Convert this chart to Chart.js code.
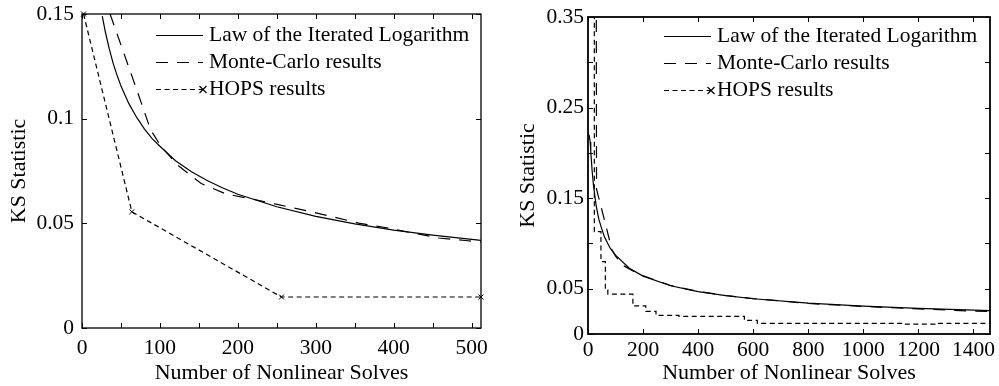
<!DOCTYPE html>
<html>
<head>
<meta charset="utf-8">
<title>KS Statistic vs Number of Nonlinear Solves</title>
<script src="https://cdn.jsdelivr.net/npm/chart.js@4.4.1/dist/chart.umd.min.js"></script>
<style>
    body { margin:0; background:#fff; }
    #wrap { position:relative; width:999px; height:386px; }
    canvas { position:absolute; top:0; }
</style>
</head>
<body>
<div id="wrap">
    <canvas id="leftChart" width="500" height="386" style="left:0"></canvas>
    <canvas id="rightChart" width="499" height="386" style="left:500px"></canvas>
</div>
<script>
// ==========================================================
// DATA
// ==========================================================

const seriesNames = ["Law of the Iterated Logarithm", "Monte-Carlo results", "HOPS results"];

// left panel (up to 512 solves)
const leftLilX  = [26, 30, 35, 40, 45, 50, 60, 70, 80, 90, 100, 120, 140, 160, 180, 200, 250, 300, 350, 400, 450, 512];
const leftLilY  = [0.149, 0.1414, 0.1333, 0.1264, 0.1207, 0.1156, 0.1073, 0.1007, 0.0951, 0.0905, 0.0868, 0.0799, 0.0748, 0.0706, 0.067, 0.0639, 0.0579, 0.0533, 0.0497, 0.0468, 0.0444, 0.0419];

const leftMcX   = [36, 71, 88, 101, 122, 153, 185, 220, 252, 286, 320, 355, 389, 424, 458, 492, 512];
const leftMcY   = [0.15, 0.113, 0.0947, 0.087, 0.078, 0.069, 0.064, 0.0615, 0.0589, 0.0562, 0.0533, 0.0501, 0.048, 0.0454, 0.043, 0.0418, 0.041];

const leftHopsX = [2, 64, 256, 512];
const leftHopsY = [0.15, 0.0555, 0.0148, 0.0148];

const leftYTicks = [0, 0.05, 0.1, 0.15];

// right panel (up to ~1460 solves)
const rightLilX  = [4, 8, 10, 15, 20, 30, 40, 50, 60, 80, 100, 150, 200, 300, 400, 500, 600, 800, 1000, 1200, 1460];
const rightLilY  = [0.22, 0.212, 0.202, 0.18, 0.164, 0.141, 0.126, 0.116, 0.107, 0.095, 0.087, 0.0726, 0.0639, 0.0533, 0.0468, 0.0423, 0.0389, 0.0341, 0.0308, 0.0283, 0.0259];

const rightMcX   = [30, 31, 47, 87, 100, 127, 188, 300, 400, 500, 600, 700, 800, 900, 1000, 1100, 1200, 1300, 1400, 1460];
const rightMcY   = [0.37, 0.16, 0.141, 0.093, 0.086, 0.0757, 0.0657, 0.0535, 0.047, 0.0425, 0.039, 0.0365, 0.0337, 0.032, 0.0305, 0.029, 0.0278, 0.0265, 0.0252, 0.0248];

// step series: each point starts a new level
const rightHopsX = [23, 23, 47, 63, 72, 163, 210, 247, 330, 568, 615, 1150, 1260, 1460];
const rightHopsY = [0.4, 0.113, 0.08, 0.0488, 0.044, 0.031, 0.025, 0.0205, 0.0195, 0.015, 0.0118, 0.0108, 0.0118, 0.0118];

const rightYTicks = [0, 0.05, 0.15, 0.25, 0.35];


// ==========================================================
// HELPERS
// ==========================================================

const serif = "'Liberation Serif', 'Times New Roman', serif";
Chart.defaults.font.family = serif;
Chart.defaults.color = "#000";

function pairs(xs, ys)
{
    return xs.map((x, i) => ({ x: x, y: ys[i] }));
}

// MATLAB-like box with inward tick marks on every side
const boxTicks = {
    id: "boxTicks",
    afterDatasetsDraw(chart)
    {
        const a = chart.chartArea;
        const ctx = chart.ctx;
        const len = 5;
        ctx.save();
        ctx.strokeStyle = "#000";
        ctx.lineWidth = 1;
        ctx.beginPath();
        chart.scales.x.ticks.forEach(t => {
            const px = Math.round(chart.scales.x.getPixelForValue(t.value)) + 0.5;
            ctx.moveTo(px, a.bottom); ctx.lineTo(px, a.bottom - len);
            ctx.moveTo(px, a.top);    ctx.lineTo(px, a.top + len);
        });
        chart.scales.y.ticks.forEach(t => {
            const py = Math.round(chart.scales.y.getPixelForValue(t.value)) + 0.5;
            ctx.moveTo(a.left, py);  ctx.lineTo(a.left + len, py);
            ctx.moveTo(a.right, py); ctx.lineTo(a.right - len, py);
        });
        ctx.stroke();
        ctx.lineWidth = chart.options.plugins.boxTicks.border;
        ctx.strokeRect(a.left, a.top, a.right - a.left, a.bottom - a.top);
        ctx.restore();
    }
};

// legend drawn inside the plot, upper right, no frame
const inlineLegend = {
    id: "inlineLegend",
    afterDraw(chart)
    {
        const o = chart.options.plugins.inlineLegend;
        const a = chart.chartArea;
        const ctx = chart.ctx;
        ctx.save();
        chart.data.datasets.forEach((ds, i) => {
            const y = Math.round(a.top + o.top + i * o.gap) + 0.5;
            const x0 = a.left + o.lineStart, x1 = a.left + o.lineEnd;
            ctx.strokeStyle = "#000";
            ctx.lineWidth = 1.2;
            ctx.setLineDash(ds.borderDash || []);
            ctx.beginPath();
            ctx.moveTo(x0, y); ctx.lineTo(x1, y);
            ctx.stroke();
            ctx.setLineDash([]);
            if (o.marker[i])
            {
                ctx.beginPath();
                ctx.moveTo(x1 - 3.5, y - 3.5); ctx.lineTo(x1 + 3.5, y + 3.5);
                ctx.moveTo(x1 - 3.5, y + 3.5); ctx.lineTo(x1 + 3.5, y - 3.5);
                ctx.stroke();
            }
            ctx.fillStyle = "#000";
            ctx.font = "21.5px " + serif;
            ctx.textBaseline = "middle";
            ctx.fillText(ds.label, a.left + o.textStart, y);
        });
        ctx.restore();
    }
};

function lineSet(label, data, dash, extra)
{
    return Object.assign({
        label: label,
        data: data,
        borderColor: "#000",
        backgroundColor: "#000",
        borderWidth: 1.2,
        borderDash: dash,
        pointRadius: 0,
        fill: false,
        tension: 0
    }, extra || {});
}


// ==========================================================
// CHART BUILDER
// ==========================================================

function makeChart(id, cfg)
{
    return new Chart(document.getElementById(id), {
        type: "line",
        data: { datasets: cfg.datasets },
        options: {
            responsive: false,
            animation: false,
            devicePixelRatio: 1,
            layout: { padding: cfg.padding },
            plugins: {
                legend: { display: false },
                tooltip: { enabled: false },
                boxTicks: { border: cfg.border },
                inlineLegend: cfg.legend
            },
            scales: {
                x: {
                    type: "linear",
                    min: 0,
                    max: cfg.xMax,
                    grid: { display: false, drawTicks: false },
                    border: { display: false },
                    afterFit(s) { s.height = cfg.xAxisHeight; s.paddingLeft = 0; s.paddingRight = 0; },
                    ticks: {
                        stepSize: cfg.xStep,
                        includeBounds: false,
                        autoSkip: false,
                        maxRotation: 0,
                        padding: cfg.xLabelPad,
                        font: { size: 21.5 },
                        callback: v => (v % cfg.xLabelEvery === 0 ? String(v) : "")
                    },
                    title: {
                        display: true,
                        text: "Number of Nonlinear Solves",
                        font: { size: 22 },
                        padding: { top: 1, bottom: 0 }
                    }
                },
                y: {
                    min: 0,
                    max: cfg.yMax,
                    grid: { display: false, drawTicks: false },
                    border: { display: false },
                    afterFit(s) { s.width = cfg.yAxisWidth; s.paddingTop = 0; s.paddingBottom = 0; },
                    ticks: {
                        stepSize: 0.05,
                        autoSkip: false,
                        padding: cfg.yLabelPad,
                        font: { size: 21.5 },
                        callback: v => {
                            const r = Number(v.toFixed(2));
                            return cfg.yLabels.includes(r) ? String(r) : "";
                        }
                    },
                    title: {
                        display: true,
                        text: "KS Statistic",
                        font: { size: 22 },
                        padding: { top: cfg.yTitlePad, bottom: 0 }
                    }
                }
            }
        },
        plugins: [boxTicks, inlineLegend]
    });
}


// ==========================================================
// ENTRY POINT
// ==========================================================

makeChart("leftChart", {
    datasets: [
        lineSet(seriesNames[0], pairs(leftLilX, leftLilY), []),
        lineSet(seriesNames[1], pairs(leftMcX, leftMcY), [12, 9]),
        lineSet(seriesNames[2], pairs(leftHopsX, leftHopsY), [5, 3.5], {
            pointRadius: 3.5, pointStyle: "crossRot", pointBorderWidth: 1, clip: false
        })
    ],
    padding: { left: 0, right: 19, top: 14, bottom: 0 },
    border: 1.3,
    xMax: 512, xStep: 50, xLabelEvery: 100, xAxisHeight: 58, xLabelPad: 7,
    yMax: 0.15, yLabels: leftYTicks, yAxisWidth: 82, yLabelPad: 8, yTitlePad: 6,
    legend: { top: 21, gap: 27, lineStart: 74, lineEnd: 121, textStart: 127, marker: [false, false, true] }
});

makeChart("rightChart", {
    datasets: [
        lineSet(seriesNames[0], pairs(rightLilX, rightLilY), []),
        lineSet(seriesNames[1], pairs(rightMcX, rightMcY), [12, 9]),
        lineSet(seriesNames[2], pairs(rightHopsX, rightHopsY), [5, 3.5], { stepped: "before" })
    ],
    padding: { left: 0, right: 9, top: 17, bottom: 0 },
    border: 1.8,
    xMax: 1460, xStep: 200, xLabelEvery: 200, xAxisHeight: 52, xLabelPad: 3,
    yMax: 0.35, yLabels: rightYTicks, yAxisWidth: 88, yLabelPad: 4, yTitlePad: 15,
    legend: { top: 19, gap: 27, lineStart: 76, lineEnd: 123, textStart: 129, marker: [false, false, true] }
});
</script>
</body>
</html>
